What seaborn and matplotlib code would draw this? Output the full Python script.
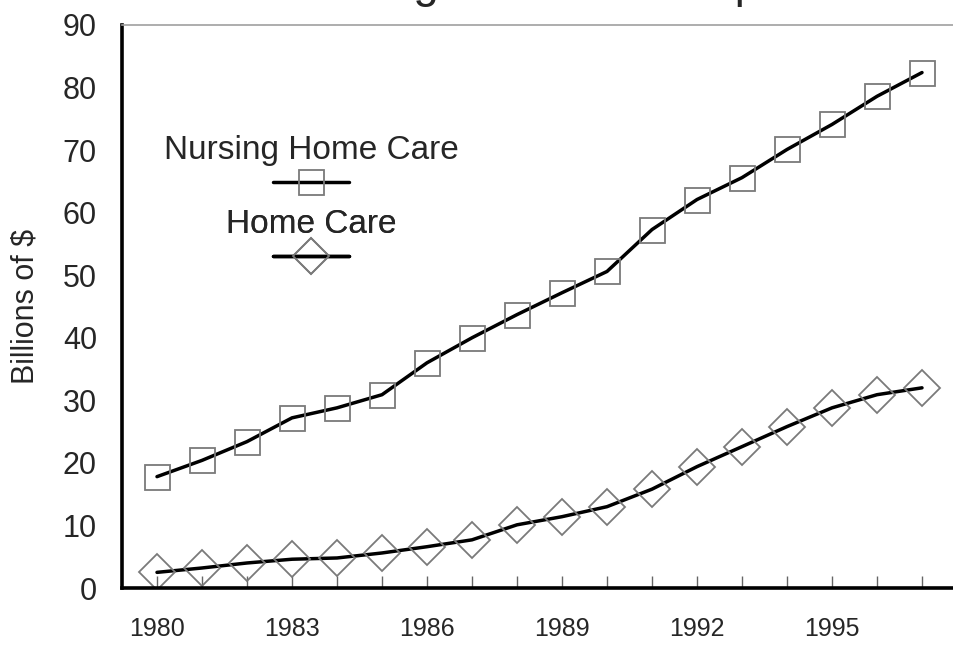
import matplotlib
matplotlib.use('Agg')
import matplotlib.pyplot as plt
import seaborn as sns

# values (billions of $)
years = list(range(1980, 1998))
nursing_home = [17.8, 20.4, 23.4, 27.2, 28.8, 30.9, 36.0, 40.0, 43.7, 47.2,
                50.6, 57.3, 62.1, 65.6, 70.1, 74.1, 78.6, 82.4]
home_care = [2.5, 3.2, 4.0, 4.6, 4.8, 5.6, 6.6, 7.7, 10.1, 11.4,
             13.0, 15.8, 19.4, 22.6, 25.8, 28.8, 30.9, 32.0]
series_names = ['Nursing Home Care', 'Home Care']
year_ticks = [1980, 1983, 1986, 1989, 1992, 1995]
y_ticks = list(range(0, 100, 10))
title = 'Long-Term Care Expenditures'


def draw_figure():
    sns.set_style('white')
    plt.rcParams['font.family'] = ['Liberation Sans', 'DejaVu Sans']

    fig = plt.figure(figsize=(9.54, 6.45), dpi=100)
    ax = fig.add_axes([122 / 954, 57 / 645, 832 / 954, 563 / 645])

    marker_kws = dict(markersize=18, markerfacecolor='none',
                      markeredgecolor='#7a7a7a', markeredgewidth=1.3)
    sns.lineplot(x=years, y=nursing_home, ax=ax, color='black', lw=2.5,
                 marker='s', label=series_names[0], legend=False, **marker_kws)
    sns.lineplot(x=years, y=home_care, ax=ax, color='black', lw=2.5,
                 marker='D', label=series_names[1], legend=False, **marker_kws)

    ax.set_xlim(1980 - 35 / 45, 1980 + 797 / 45)
    ax.set_ylim(0, 90)
    ax.set_xticks(year_ticks)
    ax.set_xticks(years, minor=True)
    ax.set_yticks(y_ticks)
    ax.tick_params(axis='x', which='both', direction='in', length=9,
                   width=1, color='#666666', labelsize=18, pad=21, bottom=True)
    ax.tick_params(axis='y', length=0, labelsize=22, pad=18)

    ax.set_xlabel('')
    ax.set_ylabel('Billions of $', fontsize=22)
    ax.yaxis.set_label_coords(-0.098, 0.5)

    for side in ['left', 'bottom']:
        ax.spines[side].set_color('black')
        ax.spines[side].set_linewidth(2.6)
    ax.spines['top'].set_color('#a0a0a0')
    ax.spines['top'].set_linewidth(1.2)
    ax.spines['right'].set_visible(False)

    # legend: label above its sample line, as in the original
    lines = ax.get_lines()
    anchors = [(311 / 954, 1 - 135 / 645), (311 / 954, 1 - 209 / 645)]
    for line, name, anchor in zip(lines, series_names, anchors):
        leg = ax.legend([line], [''], title=name, title_fontsize=24,
                        fontsize=24, frameon=False, loc='upper center',
                        bbox_to_anchor=anchor, bbox_transform=fig.transFigure,
                        handlelength=2.3, handletextpad=0, borderpad=0,
                        borderaxespad=0, labelspacing=0.1, numpoints=1)
        ax.add_artist(leg)

    # title is cut off at the top of the scan, only its lower edge shows
    fig.text(337 / 954, 1 + 3 / 645, title, fontsize=33, ha='left', va='baseline')

    fig.savefig('out.png', dpi=100)


def main():
    draw_figure()


if __name__ == '__main__':
    main()
